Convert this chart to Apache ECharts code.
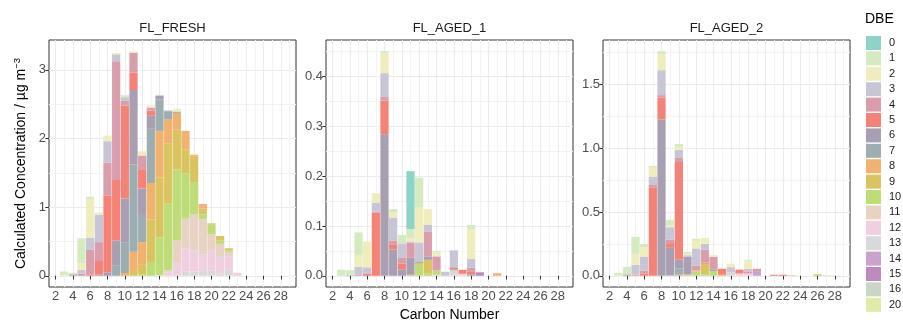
<!DOCTYPE html>
<html>
<head>
<meta charset="utf-8">
<script src="https://cdn.jsdelivr.net/npm/echarts@6/dist/echarts.min.js"></script>
<style>
  html, body { margin: 0; padding: 0; background: #fff; }
  #chart { width: 903px; height: 320px; }
</style>
</head>
<body>
<div id="chart"></div>
<script>
// facet names and DBE levels (legend order, top of stack = DBE 0)
const panelNames = ['FL_FRESH', 'FL_AGED_1', 'FL_AGED_2'];
const dbeLevels = [0, 1, 2, 3, 4, 5, 6, 7, 8, 9, 10, 11, 12, 13, 14, 15, 16, 20];
const dbeColors = ['#8DD3C7', '#D3EBBF', '#F0EDBD', '#C8C5D7', '#D99DAB', '#F48276',
  '#A99FB2', '#9DAEB2', '#F0B26E', '#D9C45F', '#BEDC78', '#E7D2C4', '#F0CFE1',
  '#D9D9D9', '#C9A3CB', '#BD89BE', '#CAD6C4', '#E0EBA7'];

// carbon numbers that can hold a bar, and tick labels
const carbonNumbers = [2, 3, 4, 5, 6, 7, 8, 9, 10, 11, 12, 13, 14, 15, 16, 17, 18, 19, 20,
  21, 22, 23, 24, 25, 26, 27, 28, 29];
const xTicks = [2, 4, 6, 8, 10, 12, 14, 16, 18, 20, 22, 24, 26, 28];
const yTicksFresh = [0, 1, 2, 3];
const yTicksAged1 = [0, 0.1, 0.2, 0.3, 0.4];
const yTicksAged2 = [0, 0.5, 1, 1.5];

// [carbon number, DBE, concentration]
const flFresh = [
  [3, 1, 0.05], [3, 2, 0.012],
  [4, 1, 0.02], [4, 3, 0.015], [4, 6, 0.01],
  [5, 1, 0.36], [5, 2, 0.10], [5, 3, 0.055], [5, 4, 0.03],
  [6, 1, 0.03], [6, 2, 0.565], [6, 3, 0.18], [6, 4, 0.36], [6, 5, 0.015],
  [7, 2, 0.03], [7, 3, 0.40], [7, 4, 0.275], [7, 5, 0.20], [7, 6, 0.015],
  [8, 2, 0.08], [8, 3, 0.31], [8, 4, 0.48], [8, 5, 1.12], [8, 6, 0.05],
  [9, 2, 0.02], [9, 3, 0.10], [9, 4, 1.73], [9, 5, 0.88], [9, 6, 0.36], [9, 7, 0.155],
  [10, 1, 0.03], [10, 3, 0.05], [10, 4, 0.07], [10, 5, 1.355], [10, 6, 0.635], [10, 7, 0.45], [10, 8, 0.04],
  [11, 2, 0.02], [11, 4, 0.29], [11, 5, 0.255], [11, 6, 1.085], [11, 7, 1.27], [11, 8, 0.28], [11, 9, 0.07],
  [12, 2, 0.06], [12, 4, 0.20], [12, 5, 0.28], [12, 6, 0.386], [12, 7, 0.396], [12, 8, 0.33], [12, 9, 0.145], [12, 10, 0.015],
  [13, 2, 0.03], [13, 4, 0.045], [13, 5, 0.075], [13, 6, 0.19], [13, 7, 0.79], [13, 8, 0.53], [13, 9, 0.62], [13, 10, 0.20],
  [14, 6, 0.055], [14, 7, 0.46], [14, 8, 0.68], [14, 9, 0.87], [14, 10, 0.55], [14, 12, 0.01],
  [15, 6, 0.01], [15, 7, 0.115], [15, 8, 0.35], [15, 9, 0.88], [15, 10, 0.97], [15, 11, 0.03], [15, 12, 0.05],
  [16, 2, 0.04], [16, 7, 0.02], [16, 8, 0.245], [16, 9, 0.58], [16, 10, 1.03], [16, 11, 0.333], [16, 12, 0.184],
  [17, 8, 0.274], [17, 9, 0.348], [17, 10, 0.657], [17, 11, 0.435], [17, 12, 0.338], [17, 13, 0.058],
  [18, 2, 0.02], [18, 8, 0.026], [18, 9, 0.377], [18, 10, 0.463], [18, 11, 0.522], [18, 12, 0.31], [18, 13, 0.06],
  [19, 5, 0.015], [19, 8, 0.05], [19, 9, 0.08], [19, 10, 0.075], [19, 11, 0.507], [19, 12, 0.232], [19, 13, 0.082],
  [20, 9, 0.02], [20, 10, 0.14], [20, 11, 0.232], [20, 12, 0.30], [20, 13, 0.072],
  [21, 9, 0.068], [21, 10, 0.048], [21, 11, 0.189], [21, 12, 0.241], [21, 13, 0.034],
  [22, 9, 0.028], [22, 10, 0.024], [22, 11, 0.068], [22, 12, 0.193], [22, 13, 0.087],
  [23, 12, 0.035], [23, 13, 0.01]
];

const flAged1 = [
  [3, 1, 0.012],
  [4, 1, 0.009], [4, 3, 0.002],
  [5, 1, 0.045], [5, 2, 0.024], [5, 3, 0.016], [5, 4, 0.002],
  [6, 2, 0.052], [6, 3, 0.013], [6, 5, 0.004],
  [7, 2, 0.019], [7, 3, 0.018], [7, 4, 0.002], [7, 5, 0.127],
  [8, 1, 0.004], [8, 2, 0.04], [8, 3, 0.048], [8, 4, 0.007], [8, 5, 0.068], [8, 6, 0.284],
  [9, 1, 0.006], [9, 2, 0.011], [9, 3, 0.046], [9, 4, 0.009], [9, 5, 0.009], [9, 6, 0.053],
  [10, 1, 0.017], [10, 3, 0.028], [10, 4, 0.013], [10, 5, 0.011], [10, 6, 0.013],
  [11, 0, 0.116], [11, 1, 0.018], [11, 2, 0.007], [11, 3, 0.002], [11, 4, 0.031], [11, 6, 0.034], [11, 8, 0.002],
  [12, 1, 0.059], [12, 2, 0.071], [12, 3, 0.038], [12, 6, 0.003], [12, 9, 0.004], [12, 10, 0.022],
  [13, 2, 0.032], [13, 3, 0.013], [13, 4, 0.05], [13, 6, 0.007], [13, 9, 0.028], [13, 10, 0.004],
  [14, 1, 0.003], [14, 2, 0.008], [14, 4, 0.028], [14, 10, 0.009], [14, 11, 0.002],
  [15, 3, 0.008],
  [16, 3, 0.034], [16, 5, 0.004], [16, 7, 0.002], [16, 13, 0.011],
  [17, 5, 0.008], [17, 12, 0.004],
  [18, 1, 0.008], [18, 2, 0.06], [18, 3, 0.018], [18, 4, 0.007], [18, 5, 0.006], [18, 6, 0.003],
  [19, 15, 0.007],
  [21, 8, 0.005]
];

const flAged2 = [
  [3, 1, 0.02], [3, 2, 0.003],
  [4, 1, 0.057], [4, 3, 0.006], [4, 4, 0.007],
  [5, 1, 0.133], [5, 2, 0.086], [5, 3, 0.078], [5, 4, 0.004], [5, 5, 0.004],
  [6, 1, 0.026], [6, 2, 0.073], [6, 3, 0.112], [6, 4, 0.02], [6, 5, 0.019],
  [7, 1, 0.013], [7, 2, 0.073], [7, 3, 0.063], [7, 4, 0.018], [7, 5, 0.694],
  [8, 1, 0.023], [8, 2, 0.126], [8, 3, 0.195], [8, 4, 0.019], [8, 5, 0.172], [8, 6, 1.226],
  [9, 1, 0.041], [9, 2, 0.016], [9, 3, 0.099], [9, 4, 0.026], [9, 5, 0.037], [9, 6, 0.216], [9, 7, 0.003],
  [10, 1, 0.021], [10, 2, 0.026], [10, 3, 0.062], [10, 4, 0.032], [10, 5, 0.764], [10, 6, 0.071], [10, 7, 0.049], [10, 8, 0.008],
  [11, 1, 0.013], [11, 2, 0.013], [11, 3, 0.013], [11, 6, 0.138], [11, 8, 0.005], [11, 9, 0.005],
  [12, 1, 0.016], [12, 2, 0.06], [12, 3, 0.136], [12, 4, 0.036], [12, 8, 0.008], [12, 10, 0.034],
  [13, 2, 0.047], [13, 3, 0.047], [13, 4, 0.099], [13, 5, 0.01], [13, 9, 0.081], [13, 10, 0.013],
  [14, 2, 0.013], [14, 4, 0.102], [14, 7, 0.01], [14, 10, 0.037],
  [15, 2, 0.008], [15, 5, 0.047], [15, 8, 0.008],
  [16, 2, 0.026], [16, 3, 0.042], [16, 13, 0.026],
  [17, 5, 0.03], [17, 12, 0.018],
  [18, 1, 0.008], [18, 2, 0.062], [18, 3, 0.021], [18, 4, 0.016], [18, 12, 0.018],
  [19, 4, 0.018], [19, 14, 0.037],
  [21, 5, 0.008],
  [22, 5, 0.008],
  [23, 8, 0.004],
  [26, 10, 0.013],
  [27, 16, 0.004],
  [28, 20, 0.004]
];

const panelRows = [flFresh, flAged1, flAged2];
const panelYTicks = [yTicksFresh, yTicksAged1, yTicksAged2];
const panelDecimals = [0, 1, 1];

// layout
const FONT = '"Liberation Sans", Arial, Helvetica, sans-serif';
const GRID_LEFT = [49, 326, 603];
const GRID_TOP = 40;
const GRID_W = 247;
const GRID_H = 247;
const X_MIN = 1.25, X_MAX = 29.75;
const PPU = GRID_W / (X_MAX - X_MIN);           // pixels per carbon number
const BAR_W = 0.95 * PPU;
// the bar grid spans the category band of carbonNumbers (first - 0.5 .. last + 0.5)
const BAND_LO = carbonNumbers[0] - 0.5;
const BAND_HI = carbonNumbers[carbonNumbers.length - 1] + 0.5;

const near = (list, v) => list.some(t => Math.abs(t - v) < 1e-6);
const NP = panelRows.length;

const grids = [], xAxes = [], yAxes = [], series = [];

// visible panels: indices 0..2
panelRows.forEach((rows, gi) => {
  grids.push({
    left: GRID_LEFT[gi], top: GRID_TOP, width: GRID_W, height: GRID_H,
    show: true, borderColor: '#333333', borderWidth: 1, backgroundColor: '#ffffff',
    containLabel: false, outerBoundsMode: 'none'
  });
});
// bar layers: indices 3..5, same vertical extent, horizontally matched to the value scale
panelRows.forEach((rows, gi) => {
  grids.push({
    left: GRID_LEFT[gi] + (BAND_LO - X_MIN) * PPU, top: GRID_TOP,
    width: (BAND_HI - BAND_LO) * PPU, height: GRID_H,
    show: false, containLabel: false, outerBoundsMode: 'none'
  });
});

panelRows.forEach((rows, gi) => {
  const totals = {};
  rows.forEach(([c, , v]) => { totals[c] = (totals[c] || 0) + v; });
  const top = Math.max(...Object.values(totals));
  const yMin = -0.05 * top, yMax = 1.05 * top;
  const yt = panelYTicks[gi];
  const dec = panelDecimals[gi];

  xAxes[gi] = {
    type: 'value', gridIndex: gi, min: X_MIN, max: X_MAX, splitNumber: 14,
    name: gi === 1 ? 'Carbon Number' : '',
    nameLocation: 'middle', nameGap: 19,
    nameTextStyle: { fontSize: 14, color: '#000', fontFamily: FONT },
    axisLine: { show: false },
    axisTick: { show: true, length: 3.7, customValues: xTicks, lineStyle: { color: '#333333', width: 1 } },
    axisLabel: {
      customValues: xTicks, color: '#4D4D4D', fontSize: 13, margin: 3, fontFamily: FONT,
      formatter: v => (near(xTicks, v) ? String(Math.round(v)) : '')
    },
    splitLine: { show: true, lineStyle: { color: '#EBEBEB', width: 1 } },
    minorTick: { show: false, splitNumber: 2 },
    minorSplitLine: { show: true, lineStyle: { color: '#F3F3F3', width: 1 } }
  };
  xAxes[NP + gi] = {
    type: 'category', gridIndex: NP + gi, data: carbonNumbers.map(String),
    boundaryGap: true, show: false
  };

  yAxes[gi] = {
    type: 'value', gridIndex: gi, min: yMin, max: yMax, splitNumber: 4,
    axisLine: { show: false },
    axisTick: { show: true, length: 3.7, customValues: yt, lineStyle: { color: '#333333', width: 1 } },
    axisLabel: {
      customValues: yt, color: '#4D4D4D', fontSize: 13, margin: 3, fontFamily: FONT,
      formatter: v => (near(yt, v) ? v.toFixed(dec) : '')
    },
    splitLine: { show: true, lineStyle: { color: '#EBEBEB', width: 1 } },
    minorTick: { show: false, splitNumber: 2 },
    minorSplitLine: { show: true, lineStyle: { color: '#F3F3F3', width: 1 } }
  };
  yAxes[NP + gi] = {
    type: 'value', gridIndex: NP + gi, min: yMin, max: yMax, show: false,
    splitLine: { show: false }
  };

  // first series is the bottom of the stack: highest DBE at the bottom
  dbeLevels.slice().reverse().forEach(d => {
    const data = carbonNumbers.map(() => '-');
    rows.forEach(([c, dbe, v]) => { if (dbe === d) data[carbonNumbers.indexOf(c)] = v; });
    series.push({
      name: String(d), type: 'bar', stack: 'panel' + gi,
      xAxisIndex: NP + gi, yAxisIndex: NP + gi,
      barWidth: BAR_W, data,
      itemStyle: { color: dbeColors[dbeLevels.indexOf(d)] },
      silent: true
    });
  });
});

const stripTexts = panelNames.map((name, i) => ({
  type: 'text', x: GRID_LEFT[i] + GRID_W / 2, y: 28,
  style: { text: name, fontSize: 13, fontFamily: FONT, fill: '#1A1A1A', align: 'center', verticalAlign: 'middle' }
}));

const chart = echarts.init(document.getElementById('chart'), null, { renderer: 'canvas' });
chart.setOption({
  animation: false,
  backgroundColor: '#ffffff',
  grid: grids,
  xAxis: xAxes,
  yAxis: yAxes,
  legend: {
    data: dbeLevels.map(String),
    orient: 'vertical', left: 866, top: 36, padding: 0,
    icon: 'rect', itemWidth: 15, itemHeight: 14, itemGap: 1.4,
    selectedMode: false,
    textStyle: { fontSize: 11, color: '#1A1A1A', fontFamily: FONT, lineHeight: 14, padding: [0, 0, 0, 3] }
  },
  graphic: stripTexts.concat([
    {
      type: 'text', x: 865, y: 19,
      style: { text: 'DBE', fontSize: 14, fontFamily: FONT, fill: '#000', align: 'left', verticalAlign: 'middle' }
    },
    {
      type: 'text', x: 21, y: GRID_TOP + GRID_H / 2, rotation: Math.PI / 2,
      style: {
        text: '{a|Calculated Concentration / µg m}{s|−3}',
        align: 'center', verticalAlign: 'middle',
        rich: {
          a: { fontSize: 14, fontFamily: FONT, fill: '#000', lineHeight: 18 },
          s: { fontSize: 9.5, fontFamily: FONT, fill: '#000', lineHeight: 10, verticalAlign: 'top' }
        }
      }
    }
  ]),
  series
});
</script>
</body>
</html>
